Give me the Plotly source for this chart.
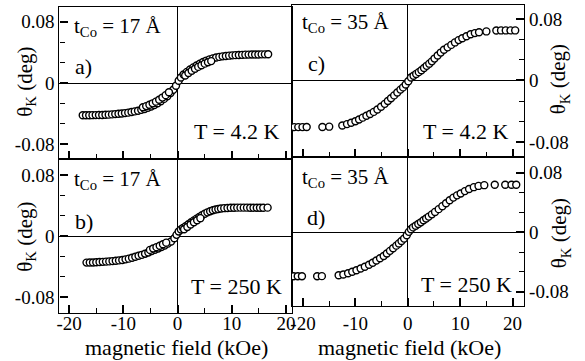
import plotly.graph_objects as go

# ---------------------------------------------------------------
# Polar Kerr rotation vs. applied field, two Co thicknesses, two T
# ---------------------------------------------------------------

# a) t_Co = 17 Å, T = 4.2 K
field_a = [-17.5, -16.9, -16.3, -15.7, -15.1, -14.5, -13.9, -13.3, -12.7, -12.1,
           -11.5, -10.9, -10.3, -9.7, -9.1, -8.5, -7.9, -7.3, -6.7, -6.1,
           -5.5, -4.9, -4.3, -3.7, -3.1, -2.5, -1.9, -1.3, -0.8, -0.3,
           0.2, 0.6, 1.1, 1.7, 2.3, 2.9, 3.5, 4.1, 4.7, 5.3,
           5.9, 6.5, 7.1, 7.7, 8.3, 8.9, 9.5, 10.1, 10.7, 11.3,
           11.9, 12.5, 13.1, 13.7, 14.3, 14.9, 15.5, 16.1, 16.7,
           -6.4, -5.8, -5.2, -4.6, -4.0, -3.4, -2.8, -2.2, -1.6,
           1.4, 2.0, 2.6, 3.2, 3.8, 4.4, 5.0, 5.6, 6.2]
kerr_a = [-0.0420, -0.0420, -0.0420, -0.0419, -0.0418, -0.0417, -0.0416, -0.0414, -0.0412, -0.0409,
          -0.0405, -0.0401, -0.0397, -0.0392, -0.0386, -0.0378, -0.0370, -0.0361, -0.0350, -0.0338,
          -0.0323, -0.0306, -0.0286, -0.0263, -0.0237, -0.0207, -0.0172, -0.0130, -0.0088, -0.0035,
          0.0030, 0.0072, 0.0110, 0.0145, 0.0176, 0.0203, 0.0228, 0.0251, 0.0273, 0.0292,
          0.0308, 0.0321, 0.0332, 0.0340, 0.0347, 0.0352, 0.0356, 0.0360, 0.0363, 0.0365,
          0.0367, 0.0369, 0.0370, 0.0371, 0.0372, 0.0372, 0.0373, 0.0373, 0.0374,
          -0.0316, -0.0301, -0.0284, -0.0265, -0.0243, -0.0219, -0.0190, -0.0158, -0.0120,
          0.0098, 0.0131, 0.0160, 0.0186, 0.0210, 0.0232, 0.0252, 0.0270, 0.0285]

# b) t_Co = 17 Å, T = 250 K
field_b = [-16.8, -16.2, -15.6, -15.0, -14.4, -13.8, -13.2, -12.6, -12.0, -11.4,
           -10.8, -10.2, -9.6, -9.0, -8.4, -7.8, -7.2, -6.6, -6.0, -5.4,
           -4.8, -4.2, -3.6, -3.0, -2.4, -1.8, -1.2, -0.6, -0.2, 0.2,
           0.6, 1.0, 1.5, 2.0, 2.5, 3.0, 3.5, 4.0, 4.5, 5.0,
           5.5, 6.0, 6.5, 7.0, 7.5, 8.0, 8.6, 9.2, 9.8, 10.4,
           11.0, 11.6, 12.2, 12.8, 13.4, 14.0, 14.6, 15.2, 15.8, 16.6,
           -5.1, -4.5, -3.9, -3.3, -2.7, -2.1, 1.2, 1.8, 2.4, 3.0, 3.6, 4.2]
kerr_b = [-0.0349, -0.0348, -0.0347, -0.0345, -0.0342, -0.0339, -0.0336, -0.0333, -0.0329, -0.0325,
          -0.0320, -0.0314, -0.0306, -0.0297, -0.0285, -0.0272, -0.0260, -0.0247, -0.0232, -0.0216,
          -0.0198, -0.0180, -0.0163, -0.0144, -0.0124, -0.0100, -0.0072, -0.0030, 0.0015, 0.0060,
          0.0085, 0.0105, 0.0128, 0.0155, 0.0180, 0.0205, 0.0228, 0.0250, 0.0272, 0.0292,
          0.0310, 0.0325, 0.0337, 0.0347, 0.0354, 0.0360, 0.0365, 0.0368, 0.0370, 0.0371,
          0.0372, 0.0372, 0.0372, 0.0372, 0.0371, 0.0371, 0.0371, 0.0371, 0.0371, 0.0372,
          -0.0182, -0.0164, -0.0146, -0.0128, -0.0109, -0.0087, 0.0089, 0.0119, 0.0150, 0.0180, 0.0207, 0.0234]

# c) t_Co = 35 Å, T = 4.2 K
field_c = [-21.7, -20.9, -20.1, -19.3, -16.3, -15.0, -12.5, -11.6, -10.8, -10.0,
           -9.3, -8.6, -7.9, -7.2, -6.5, -5.8, -5.1, -4.4, -3.8, -3.2,
           -2.6, -2.0, -1.4, -0.9, -0.4, 0.1, 0.6, 1.1, 1.6, 2.1,
           2.6, 3.1, 3.6, 4.1, 4.6, 5.1, 5.7, 6.3, 6.9, 7.6,
           8.3, 9.0, 9.7, 10.4, 11.2, 12.0, 12.8, 13.6, 15.0, 16.9,
           17.8, 18.7, 19.6, 20.5]
kerr_c = [-0.0606, -0.0606, -0.0606, -0.0605, -0.0604, -0.0600, -0.0585, -0.0567, -0.0550, -0.0530,
          -0.0507, -0.0483, -0.0459, -0.0436, -0.0408, -0.0377, -0.0342, -0.0304, -0.0267, -0.0231,
          -0.0194, -0.0156, -0.0119, -0.0090, -0.0052, -0.0010, 0.0038, 0.0062, 0.0085, 0.0108,
          0.0132, 0.0162, 0.0190, 0.0218, 0.0248, 0.0284, 0.0324, 0.0362, 0.0398, 0.0430,
          0.0462, 0.0494, 0.0524, 0.0549, 0.0575, 0.0600, 0.0615, 0.0626, 0.0637, 0.0648,
          0.0650, 0.0650, 0.0650, 0.0650]

# d) t_Co = 35 Å, T = 250 K
field_d = [-21.8, -21.0, -20.2, -17.3, -16.4, -13.2, -12.3, -11.4, -10.6, -9.8,
           -9.0, -8.2, -7.4, -6.7, -6.0, -5.3, -4.6, -4.0, -3.4, -2.8,
           -2.2, -1.7, -1.2, -0.7, -0.2, 0.2, 0.6, 1.0, 1.5, 2.0,
           2.5, 3.0, 3.5, 4.0, 4.6, 5.2, 5.9, 6.6, 7.3, 8.0,
           8.7, 9.4, 10.1, 10.9, 11.7, 12.6, 13.5, 14.6, 16.6, 18.6,
           19.8, 20.7]
kerr_d = [-0.0590, -0.0590, -0.0590, -0.0590, -0.0589, -0.0578, -0.0568, -0.0550, -0.0531, -0.0510,
          -0.0487, -0.0463, -0.0437, -0.0410, -0.0380, -0.0350, -0.0318, -0.0285, -0.0250, -0.0215,
          -0.0180, -0.0150, -0.0118, -0.0085, -0.0040, 0.0005, 0.0040, 0.0065, 0.0088, 0.0110,
          0.0133, 0.0160, 0.0185, 0.0210, 0.0240, 0.0273, 0.0310, 0.0350, 0.0390, 0.0430,
          0.0465, 0.0495, 0.0520, 0.0552, 0.0580, 0.0605, 0.0622, 0.0632, 0.0637, 0.0637,
          0.0637, 0.0637]

# tick positions and labels
x_ticks = [-20, -10, 0, 10, 20]
x_labels = ["-20", "-10", "0", "10", "20"]
x_minor = [-15, -5, 5, 15]
y_ticks = [-0.08, 0, 0.08]
y_labels = ["-0.08", "0", "0.08"]
y_minor = [-0.0533, -0.0267, 0.0267, 0.0533]

W, H = 585, 361
SERIF = "Liberation Serif"


def fx(px):
    return px / W


def fy(py):
    return 1 - py / H


fig = go.Figure()

panels = [
    (field_a, kerr_a, "x", "y"),
    (field_b, kerr_b, "x2", "y2"),
    (field_c, kerr_c, "x3", "y3"),
    (field_d, kerr_d, "x4", "y4"),
]
for fld, kerr, xa, ya in panels:
    fig.add_trace(go.Scatter(
        x=fld, y=kerr, xaxis=xa, yaxis=ya, mode="markers",
        marker=dict(symbol="circle", size=7, color="white",
                    line=dict(color="black", width=1.4)),
        showlegend=False, hoverinfo="skip"))

axis_common = dict(
    showline=True, linewidth=1.4, linecolor="black", mirror=True,
    ticks="inside", ticklen=8, tickwidth=1.5, tickcolor="black",
    zeroline=True, zerolinecolor="black", zerolinewidth=1.2,
    showgrid=False, tickmode="array",
    tickfont=dict(family=SERIF, size=19, color="black"),
)


def xaxis(rng, dom, anchor, labels, standoff=0):
    return dict(axis_common, range=rng, domain=dom, anchor=anchor,
                tickvals=x_ticks, ticktext=x_labels, showticklabels=labels,
                ticklabelstandoff=standoff,
                minor=dict(tickvals=x_minor, ticks="inside", ticklen=5,
                           tickwidth=1.3, tickcolor="black"))


def yaxis(rng, dom, anchor, side):
    return dict(axis_common, range=rng, domain=dom, anchor=anchor, side=side,
                tickvals=y_ticks, ticktext=y_labels,
                minor=dict(tickvals=y_minor, ticks="inside", ticklen=5,
                           tickwidth=1.3, tickcolor="black"))


left_x = [fx(57), fx(292)]
right_x = [fx(292), fx(526.5)]

fig.update_layout(
    width=W, height=H,
    margin=dict(l=0, r=0, t=0, b=0),
    paper_bgcolor="white", plot_bgcolor="white",
    xaxis=xaxis([-21.8, 21.1], left_x, "y", False),
    yaxis=yaxis([-0.099, 0.099], [fy(159), fy(7)], "x", "left"),
    xaxis2=xaxis([-21.8, 21.1], left_x, "y2", True, -7),
    yaxis2=yaxis([-0.101, 0.101], [fy(313), fy(159)], "x2", "left"),
    xaxis3=xaxis([-22.1, 22.2], right_x, "y3", False),
    yaxis3=yaxis([-0.0994, 0.098], [fy(157), fy(5)], "x3", "right"),
    xaxis4=xaxis([-22.1, 22.2], right_x, "y4", True, 0),
    yaxis4=yaxis([-0.099, 0.101], [fy(306), fy(157)], "x4", "right"),
)


def note(text, x, y, size=21, xanchor="left", angle=0):
    fig.add_annotation(text=text, x=fx(x), y=fy(y), xref="paper", yref="paper",
                       xanchor=xanchor, yanchor="middle", showarrow=False,
                       textangle=angle,
                       font=dict(family=SERIF, size=size, color="black"))


# panel labels
note("t<sub>Co</sub> = 17 Å", 70, 27)
note("a)", 71, 66, size=22)
note("T = 4.2 K", 235.5, 131.5, size=22, xanchor="center")
note("t<sub>Co</sub> = 17 Å", 70, 180)
note("b)", 71, 221, size=22)
note("T = 250 K", 236, 286, size=22, xanchor="center")
note("t<sub>Co</sub> = 35 Å", 300, 23)
note("c)", 306, 63, size=22)
note("T = 4.2 K", 467, 131, size=22, xanchor="center")
note("t<sub>Co</sub> = 35 Å", 300, 178)
note("d)", 305, 217, size=22)
note("T = 250 K", 468.5, 284, size=22, xanchor="center")

# axis titles
ytitle = "θ<sub>K</sub> (deg)"
note(ytitle, 23, 82, size=21, xanchor="center", angle=-90)
note(ytitle, 23, 237, size=21, xanchor="center", angle=-90)
note(ytitle, 562, 79, size=21, xanchor="center", angle=-90)
note(ytitle, 563, 233, size=21, xanchor="center", angle=-90)
note("magnetic field (kOe)", 175.5, 347, size=22, xanchor="center")
note("magnetic field (kOe)", 410.5, 347, size=22, xanchor="center")

fig.write_html("out.html")
